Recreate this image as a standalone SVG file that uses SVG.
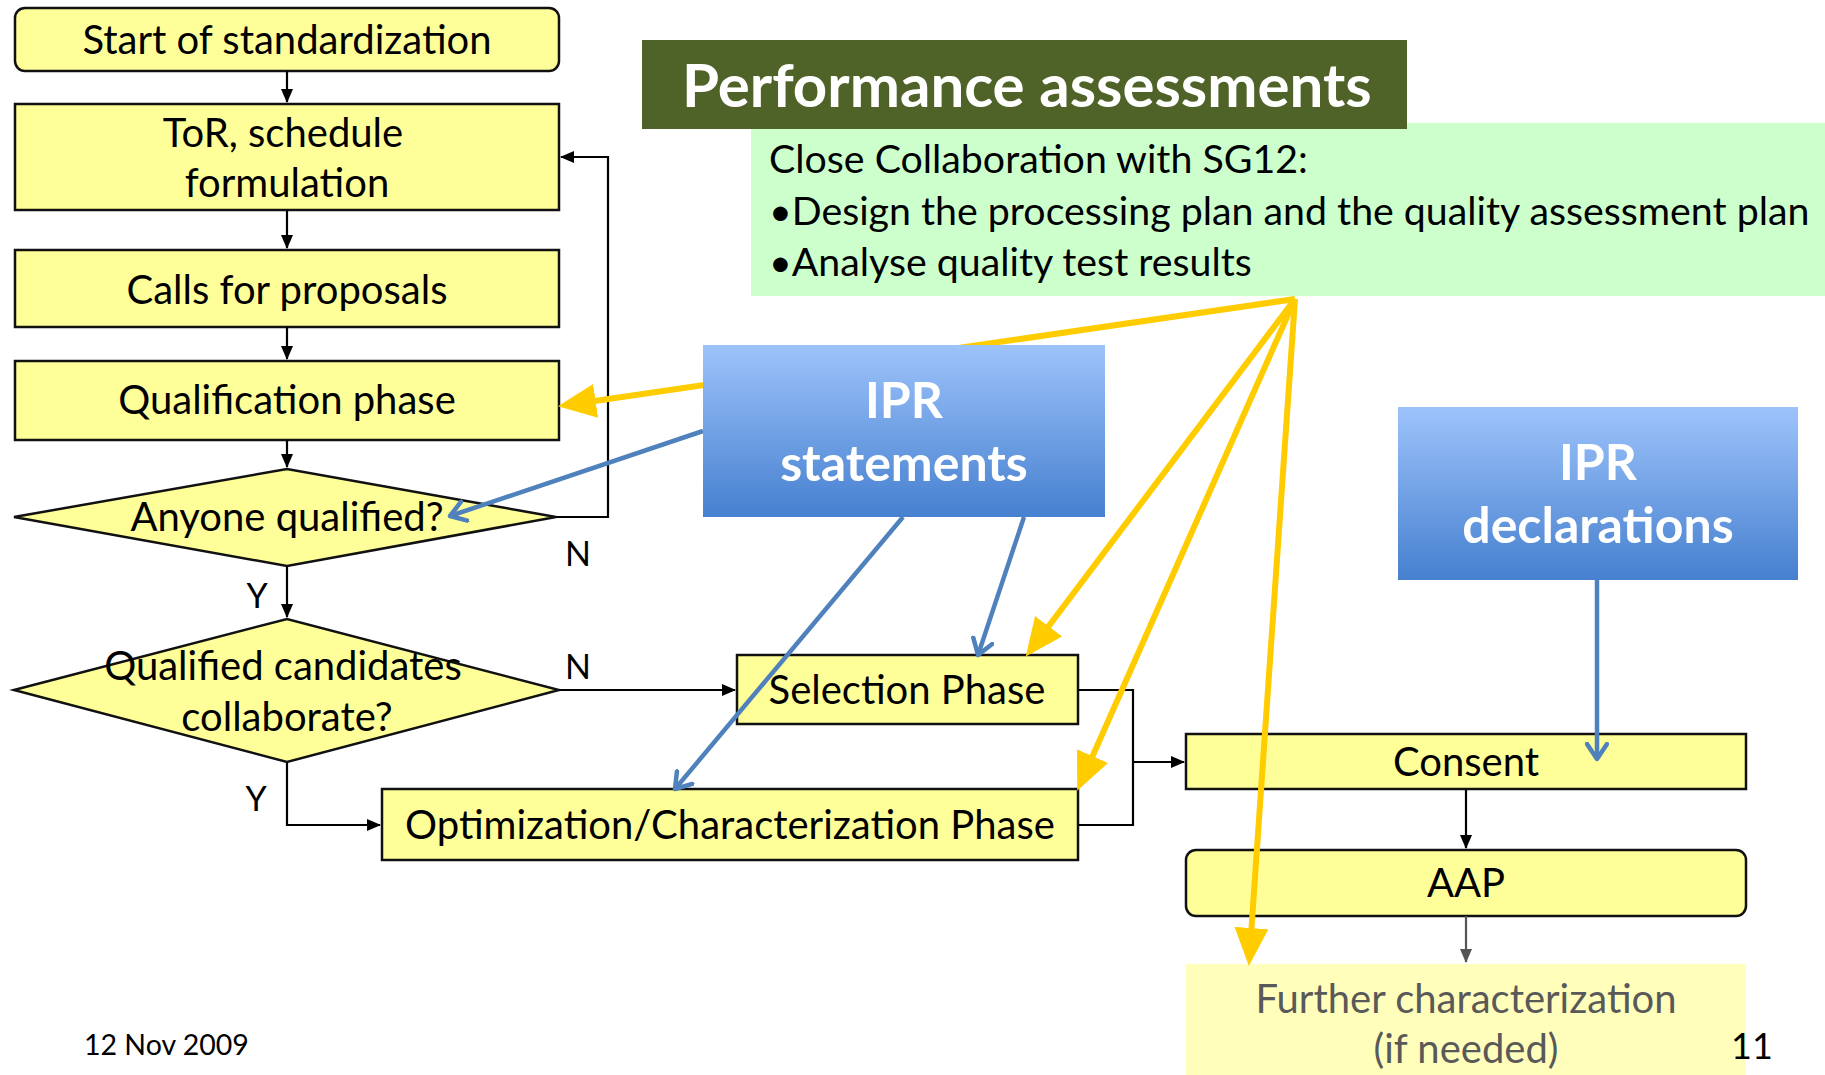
<svg xmlns="http://www.w3.org/2000/svg" width="1825" height="1075" viewBox="0 0 1825 1075">
<style>
.box{fill:#FFFF99;stroke:#111;stroke-width:2.5}
.t{font-family:Lato,"Liberation Sans",sans-serif;font-size:40px;fill:#000;text-anchor:middle}
.lbl{font-family:Lato,"Liberation Sans",sans-serif;font-size:34px;fill:#000;text-anchor:middle}
.g{font-family:Lato,"Liberation Sans",sans-serif;font-size:39.3px;fill:#000}
.ipr{font-family:Lato,"Liberation Sans",sans-serif;font-size:50px;font-weight:bold;fill:#fff;text-anchor:middle}
.blk{fill:none;stroke:#000;stroke-width:2.2}
.yel{fill:none;stroke:#FFCC00;stroke-width:6}
.blu{fill:none;stroke:#4F81BD;stroke-width:4.5}
</style>
<defs>
<marker id="ab" markerUnits="userSpaceOnUse" markerWidth="14" markerHeight="12" refX="13" refY="6" orient="auto"><path d="M0,0 L14,6 L0,12 z" fill="#000"/></marker>
<marker id="ag" markerUnits="userSpaceOnUse" markerWidth="14" markerHeight="12" refX="13" refY="6" orient="auto"><path d="M0,0 L14,6 L0,12 z" fill="#555"/></marker>
<marker id="ay" markerUnits="userSpaceOnUse" markerWidth="40" markerHeight="36" refX="20" refY="17" orient="auto"><path d="M0,0 L38,17 L0,34 z" fill="#FFCC00"/></marker>
<marker id="av" markerUnits="userSpaceOnUse" markerWidth="22" markerHeight="24" refX="17" refY="12" orient="auto"><path d="M2,2 L17,12 L2,22" fill="none" stroke="#4F81BD" stroke-width="4.5" stroke-linecap="round" stroke-linejoin="round"/></marker>
<linearGradient id="bg" x1="0" y1="0" x2="0" y2="1"><stop offset="0" stop-color="#9DC3FB"/><stop offset="1" stop-color="#4680CF"/></linearGradient>
</defs>

<g id="header">
<rect x="751" y="123" width="1074" height="173" fill="#CCFFCC"/>
<rect x="642" y="40" width="765" height="89" fill="#4F6228"/>
<text x="682" y="107" font-family="Lato,'Liberation Sans',sans-serif" font-size="60" font-weight="bold" fill="#fff">Performance assessments</text>
<text class="g" x="769" y="173">Close Collaboration with SG12:</text>
<text class="g" x="769" y="225">•Design the processing plan and the quality assessment plan</text>
<text class="g" x="769" y="276">•Analyse quality test results</text>
</g>

<g id="start"><rect class="box" x="15" y="8" width="544" height="63" rx="10"/><text class="t" x="287" y="54">Start of standardization</text></g>
<g id="tor"><rect class="box" x="15" y="104" width="544" height="106"/><text class="t" x="283" y="147">ToR, schedule</text><text class="t" x="287" y="197">formulation</text></g>
<g id="calls"><rect class="box" x="15" y="250" width="544" height="77"/><text class="t" x="287" y="304">Calls for proposals</text></g>
<g id="qual"><rect class="box" x="15" y="361" width="544" height="79"/><text class="t" x="287" y="414">Qualification phase</text></g>
<g id="anyone"><polygon class="box" points="14,517 287,469 556,517 287,566"/><text class="t" x="287" y="531">Anyone qualified?</text></g>
<g id="collab"><polygon class="box" points="14,690 287,619 559,690 287,762"/><text class="t" x="283" y="680">Qualified candidates</text><text class="t" x="287" y="731">collaborate?</text></g>
<g id="selection"><rect class="box" x="737" y="655" width="341" height="69"/><text class="t" x="907" y="704">Selection Phase</text></g>
<g id="optim"><rect class="box" x="382" y="789" width="696" height="71"/><text class="t" x="730" y="839">Optimization/Characterization Phase</text></g>
<g id="consent"><rect class="box" x="1186" y="734" width="560" height="55"/><text class="t" x="1466" y="776">Consent</text></g>
<g id="aap"><rect class="box" x="1186" y="850" width="560" height="66" rx="10"/><text class="t" x="1466" y="897">AAP</text></g>
<g id="further"><rect x="1186" y="964" width="560" height="111" fill="#FFFFBB"/><text class="t" x="1466" y="1013" style="fill:#595959">Further characterization</text><text class="t" x="1466" y="1063" style="fill:#595959">(if needed)</text></g>

<g id="connectors">
<path class="blk" d="M287,71 V102" marker-end="url(#ab)"/>
<path class="blk" d="M287,210 V248" marker-end="url(#ab)"/>
<path class="blk" d="M287,327 V359" marker-end="url(#ab)"/>
<path class="blk" d="M287,440 V467" marker-end="url(#ab)"/>
<path class="blk" d="M287,566 V617" marker-end="url(#ab)"/>
<path class="blk" d="M556,517 H608 V157 H561" marker-end="url(#ab)"/>
<path class="blk" d="M559,690 H735" marker-end="url(#ab)"/>
<path class="blk" d="M287,762 V825 H380" marker-end="url(#ab)"/>
<path class="blk" d="M1078,690 H1133 V825 H1078"/>
<path class="blk" d="M1133,762 H1184" marker-end="url(#ab)"/>
<path class="blk" d="M1466,789 V848" marker-end="url(#ab)"/>
<path d="M1466,916 V962" fill="none" stroke="#555" stroke-width="2.2" marker-end="url(#ag)"/>
<path class="yel" d="M1295,299 L575.8,403.7" marker-end="url(#ay)"/>
<path class="yel" d="M1295,299 L1036.6,642.2" marker-end="url(#ay)"/>
<path class="yel" d="M1295,299 L1084.5,774.4" marker-end="url(#ay)"/>
<path class="yel" d="M1295,299 L1250.1,948" marker-end="url(#ay)"/>
<path class="blu" d="M703,431 L450,516" marker-end="url(#av)"/>
<path class="blu" d="M903,517 L675,789" marker-end="url(#av)"/>
<path class="blu" d="M1024,517 L978,655" marker-end="url(#av)"/>
<path class="blu" d="M1597,580 V759" marker-end="url(#av)"/>
<text class="lbl" x="578" y="566">N</text>
<text class="lbl" x="257" y="608">Y</text>
<text class="lbl" x="578" y="679">N</text>
<text class="lbl" x="256" y="811">Y</text>
</g>

<g id="ipr-statements"><rect x="703" y="345" width="402" height="172" fill="url(#bg)"/><text class="ipr" x="904" y="418">IPR</text><text class="ipr" x="904" y="481">statements</text></g>
<g id="ipr-declarations"><rect x="1398" y="407" width="400" height="173" fill="url(#bg)"/><text class="ipr" x="1598" y="480">IPR</text><text class="ipr" x="1598" y="543">declarations</text></g>

<g id="footer">
<text x="84" y="1055" font-family="Lato,'Liberation Sans',sans-serif" font-size="28.5" fill="#000">12 Nov 2009</text>
<text x="1752" y="1059" font-family="Lato,'Liberation Sans',sans-serif" font-size="36" fill="#000" text-anchor="middle">11</text>
</g>
</svg>
